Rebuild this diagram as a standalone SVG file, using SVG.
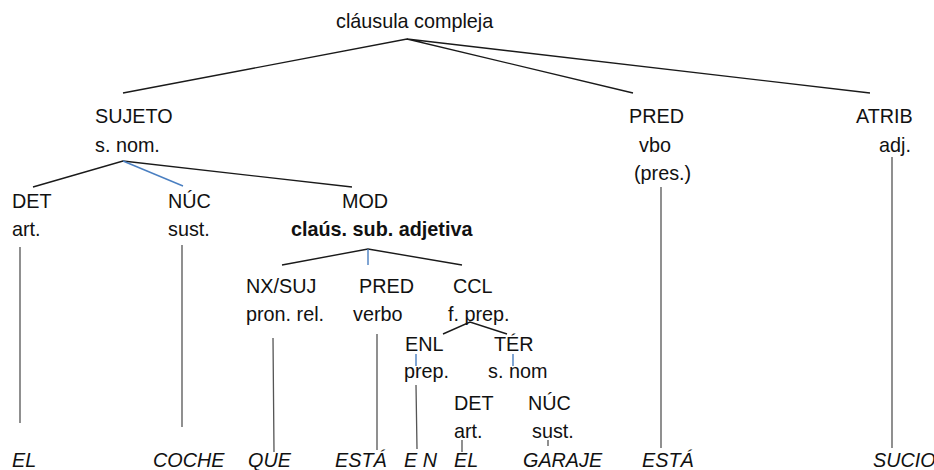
<svg xmlns="http://www.w3.org/2000/svg" width="934" height="470" viewBox="0 0 934 470">
<style>
text{font-family:"Liberation Sans",Arial,sans-serif;font-size:19.8px;fill:#111}
.b{font-weight:bold}
.i{font-style:italic}
.k{stroke:#1a1a1a;stroke-width:1.4;fill:none}
.v{stroke:#555;stroke-width:1.3;fill:none}
.bl{stroke:#4a7fc1;stroke-width:1.4;fill:none}
</style>
<rect width="934" height="470" fill="#fff"/>
<g id="connectors">
<path class="k" d="M123,93 L407,39 L633,93 M407,39 L870,93"/>
<path class="k" d="M33,187 L123,161 L352,187"/>
<path class="bl" d="M123,161 L183,186"/>
<path class="k" d="M282,265 L368,249 L462,265"/>
<path class="bl" d="M368,249 L368,265"/>
<path class="k" d="M443,334 L470,322 L507,334"/>
<path class="bl" d="M416,354 L416,366 M513,354 L513,366"/>
<path class="v" d="M20,247 L20,423 M182,245 L182,427 M273,338 L274,452 M377,334 L377,450 M416,385 L417,449 M462,440 L462,452 M548,440 L548,446 M661,187 L661,448 M892,157 L892,448"/>
</g>
<g id="root"><text x="336" y="28">cláusula compleja</text></g>
<g id="sujeto"><text x="95" y="123">SUJETO</text><text x="95" y="152">s. nom.</text></g>
<g id="pred"><text x="629" y="123">PRED</text><text x="639" y="152">vbo</text><text x="634" y="180">(pres.)</text></g>
<g id="atrib"><text x="856" y="123">ATRIB</text><text x="879" y="152">adj.</text></g>
<g id="det"><text x="12" y="208">DET</text><text x="12" y="236">art.</text></g>
<g id="nuc"><text x="168" y="208">NÚC</text><text x="168" y="236">sust.</text></g>
<g id="mod"><text x="342" y="208">MOD</text><text class="b" x="291" y="236">claús. sub. adjetiva</text></g>
<g id="nxsuj"><text x="246" y="293">NX/SUJ</text><text x="246" y="321">pron. rel.</text></g>
<g id="pred2"><text x="359" y="293">PRED</text><text x="353" y="321">verbo</text></g>
<g id="ccl"><text x="453" y="293">CCL</text><text x="448" y="321">f. prep.</text></g>
<g id="enl"><text x="405" y="351">ENL</text><text x="404" y="378">prep.</text></g>
<g id="ter"><text x="494" y="351">TÉR</text><text x="488" y="378">s. nom</text></g>
<g id="det2"><text x="454" y="410">DET</text><text x="454" y="438">art.</text></g>
<g id="nuc2"><text x="528" y="410">NÚC</text><text x="532" y="438">sust.</text></g>
<g id="words">
<text class="i" x="12" y="467">EL</text>
<text class="i" x="153" y="467">COCHE</text>
<text class="i" x="248" y="467">QUE</text>
<text class="i" x="335" y="467">ESTÁ</text>
<text class="i" x="404" y="467">E N</text>
<text class="i" x="454" y="467">EL</text>
<text class="i" x="523" y="467">GARAJE</text>
<text class="i" x="642" y="467">ESTÁ</text>
<text class="i" x="873" y="467">SUCIO</text>
</g>
</svg>
